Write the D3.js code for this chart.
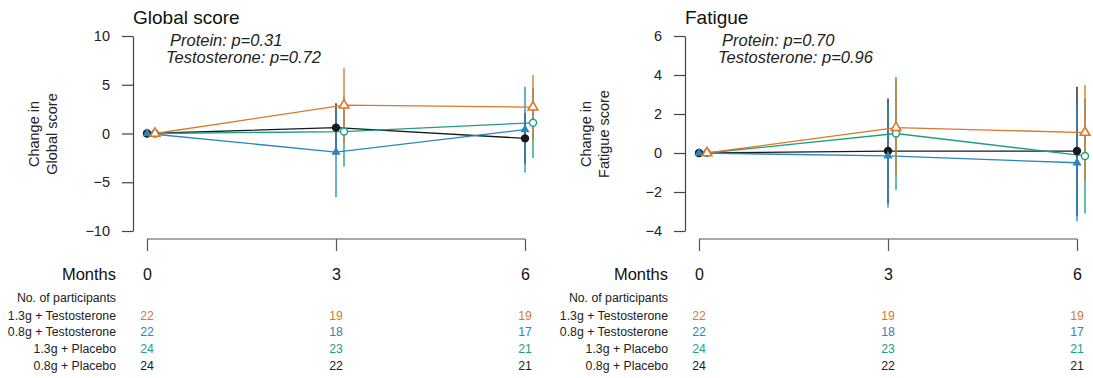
<!DOCTYPE html>
<html>
<head>
<meta charset="utf-8">
<script src="https://cdn.jsdelivr.net/npm/d3@7"></script>
<style>
  body { margin: 0; background: #fff; }
  svg { font-family: "Liberation Sans", Arial, sans-serif; display: block; }
</style>
</head>
<body>
<div id="chart"></div>
<script>
// --- data ---
const months = [0, 3, 6];
const groups = ['1.3g + Testosterone', '0.8g + Testosterone', '1.3g + Placebo', '0.8g + Placebo'];
const groupColors = ['#d9782a', '#2a86bf', '#1f9e84', '#1a1a1a'];
const participants = [
  [22, 19, 19],
  [22, 18, 17],
  [24, 23, 21],
  [24, 22, 21]
];

// mean change and half-width of error bar, per group (same order as groups)
const globalMean = [[0, 2.9, 2.7], [0, -1.9, 0.4], [0, 0.2, 1.1], [0, 0.6, -0.5]];
const globalErr = [[0, 3.8, 3.3], [0, 4.6, 4.4], [0, 3.6, 3.6], [0, 2.5, 2.6]];
const fatigueMean = [[0, 1.3, 1.05], [0, -0.15, -0.5], [0, 1.0, -0.15], [0, 0.1, 0.1]];
const fatigueErr = [[0, 2.4, 2.45], [0, 2.65, 3.0], [0, 2.9, 2.95], [0, 2.7, 3.3]];

const globalTicks = [-10, -5, 0, 5, 10];
const fatigueTicks = [-4, -2, 0, 2, 4, 6];

const panels = [
  { title: 'Global score', ylab: ['Change in', 'Global score'], domain: [-10, 10], ticks: globalTicks,
    mean: globalMean, err: globalErr, pText: ['Protein: p=0.31', 'Testosterone: p=0.72'], left: 133 },
  { title: 'Fatigue', ylab: ['Change in', 'Fatigue score'], domain: [-4, 6], ticks: fatigueTicks,
    mean: fatigueMean, err: fatigueErr, pText: ['Protein: p=0.70', 'Testosterone: p=0.96'], left: 685 }
];

// draw order: black, green, blue, orange (orange on top)
const drawOrder = [3, 2, 1, 0];
const dodge = [8, 0, 8, 0]; // 1.3g groups sit a bit to the right

const [W, H] = [1093, 378];
const svg = d3.select('#chart').append('svg').attr('width', W).attr('height', H);

function marker(g, i, color) {
  if (i === 0) { // open triangle
    g.append('path').attr('d', d3.symbol(d3.symbolTriangle, 40)())
      .attr('fill', 'white').attr('stroke', color).attr('stroke-width', 1.6);
  } else if (i === 1) { // filled triangle
    g.append('path').attr('d', d3.symbol(d3.symbolTriangle, 36)())
      .attr('fill', color);
  } else if (i === 2) { // open circle
    g.append('circle').attr('r', 3.5).attr('fill', 'white')
      .attr('stroke', color).attr('stroke-width', 1.4);
  } else { // filled circle
    g.append('circle').attr('r', 4.2).attr('fill', color);
  }
}

panels.forEach(p => {
  const y = d3.scaleLinear().domain(p.domain).range([231, 36]);
  const x = d3.scaleLinear().domain([0, 6]).range([p.left + 14, p.left + 392]);
  const g = svg.append('g');

  // y axis
  const yAxis = g.append('g').attr('transform', `translate(${p.left},0)`)
    .call(d3.axisLeft(y).tickValues(p.ticks).tickSize(11).tickSizeOuter(0).tickPadding(12));
  yAxis.selectAll('path, line').attr('stroke', '#444').attr('stroke-width', 1.2);
  yAxis.selectAll('text').attr('font-size', 14.5).attr('fill', '#222')
    .attr('font-family', '"Liberation Sans", Arial, sans-serif');

  // x axis
  const xAxis = g.append('g').attr('transform', 'translate(0,239)')
    .call(d3.axisBottom(x).tickValues(months).tickFormat(d3.format('d'))
      .tickSize(12).tickSizeOuter(0).tickPadding(18));
  xAxis.select('.domain').attr('d', `M${x(0)},0H${x(6)}`);
  xAxis.selectAll('path, line').attr('stroke', '#555').attr('stroke-width', 1.2);
  xAxis.selectAll('text').attr('font-size', 16).attr('fill', '#111')
    .attr('font-family', '"Liberation Sans", Arial, sans-serif');

  // title
  g.append('text').attr('x', p.left).attr('y', 24).attr('font-size', 19)
    .attr('fill', '#111').text(p.title);

  // p-values
  p.pText.forEach((t, k) => {
    g.append('text').attr('x', p.left + (k === 0 ? 37 : 33)).attr('y', 46 + k * 17)
      .attr('font-size', 16.5).attr('font-style', 'italic').attr('fill', '#222').text(t);
  });

  // y label
  p.ylab.forEach((t, k) => {
    g.append('text').attr('transform', `translate(${p.left - 94 + k * 18},134) rotate(-90)`)
      .attr('text-anchor', 'middle').attr('font-size', 14.5).attr('fill', '#222').text(t);
  });

  // series
  drawOrder.forEach(i => {
    const color = groupColors[i];
    const pts = months.map((m, j) => ({ x: x(m) + dodge[i], m: p.mean[i][j], e: p.err[i][j] }));
    g.append('path').datum(pts)
      .attr('d', d3.line().x(d => d.x).y(d => y(d.m)))
      .attr('fill', 'none').attr('stroke', color).attr('stroke-width', 1.3);
    g.selectAll(null).data(pts.filter(d => d.e > 0)).join('line')
      .attr('x1', d => d.x).attr('x2', d => d.x)
      .attr('y1', d => y(d.m + d.e)).attr('y2', d => y(d.m - d.e))
      .attr('stroke', color).attr('stroke-width', 1.5).attr('opacity', 0.9);
  });
  drawOrder.forEach(i => {
    months.forEach((m, j) => {
      const mg = g.append('g').attr('transform', `translate(${x(m) + dodge[i]},${y(p.mean[i][j])})`);
      marker(mg, i, groupColors[i]);
    });
  });

  // table under the axis
  const labRight = p.left - 17;
  g.append('text').attr('x', labRight).attr('y', 280).attr('text-anchor', 'end')
    .attr('font-size', 16.5).attr('fill', '#111').text('Months');
  g.append('text').attr('x', labRight).attr('y', 302).attr('text-anchor', 'end')
    .attr('font-size', 12.3).attr('fill', '#222').text('No. of participants');
  groups.forEach((name, i) => {
    const yy = 319.5 + i * 16.9;
    g.append('text').attr('x', labRight).attr('y', yy).attr('text-anchor', 'end')
      .attr('font-size', 12.3).attr('fill', '#222').text(name);
    g.selectAll(null).data(participants[i]).join('text')
      .attr('x', (d, j) => x(months[j])).attr('y', yy).attr('text-anchor', 'middle')
      .attr('font-size', 12.3).attr('fill', i === 3 ? '#222' : groupColors[i]).text(d => d);
  });
});
</script>
</body>
</html>
